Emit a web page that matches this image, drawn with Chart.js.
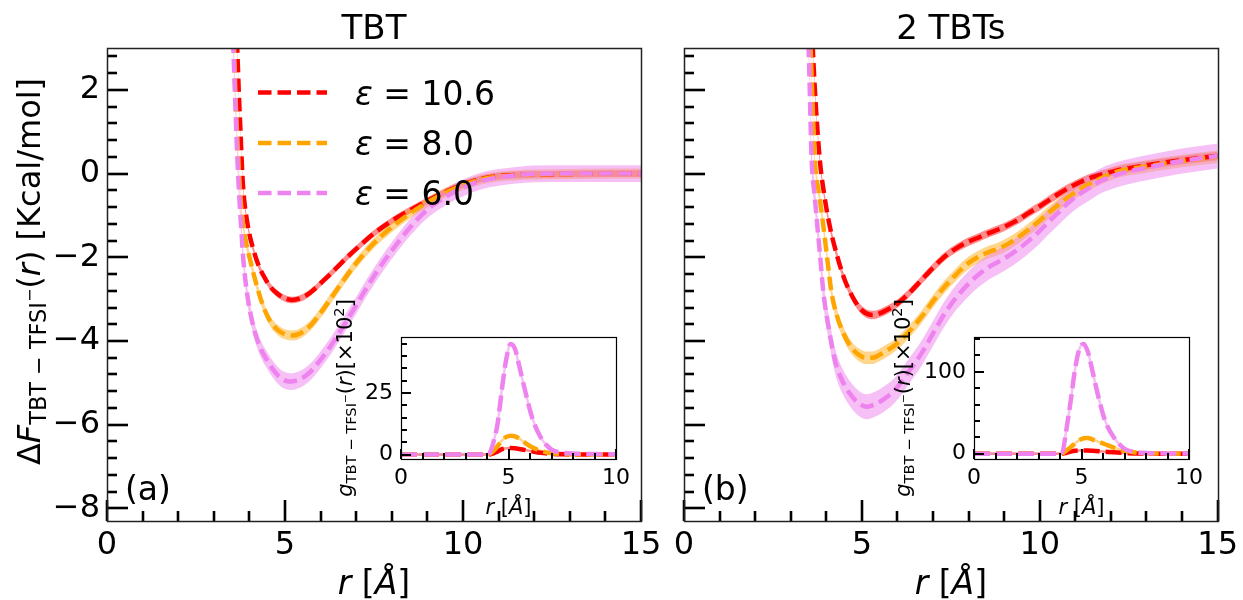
<!DOCTYPE html>
<html>
<head>
<meta charset="utf-8">
<title>TBT - TFSI free energy profiles</title>
<script src="https://cdn.jsdelivr.net/npm/chart.js@4.4.1/dist/chart.umd.min.js"></script>
<style>
  html, body { margin: 0; padding: 0; background: #fff; }
  #fig { position: relative; width: 1243px; height: 600px; overflow: hidden; background: #fff; }
  #fig canvas { position: absolute; }
</style>
</head>
<body>
<div id="fig">
  <canvas id="panelA" width="680" height="600" style="left:0px;top:0px"></canvas>
  <canvas id="panelB" width="623" height="600" style="left:620px;top:0px"></canvas>
  <canvas id="insetA" width="340" height="240" style="left:300px;top:290px"></canvas>
  <canvas id="insetB" width="350" height="240" style="left:870px;top:290px"></canvas>
</div>
<script>
// ---- panel (a): one TBT, free energy in kcal/mol ----
const rTbtRed = [3.55, 3.62, 3.7, 3.75, 3.8, 3.85, 3.9, 4.0, 4.1, 4.2, 4.3, 4.45, 4.6, 4.8, 5.0, 5.2, 5.4, 5.6, 5.8, 6.0, 6.3, 6.6, 7.0, 7.5, 8.0, 8.5, 9.0, 9.5, 10, 10.5, 11, 11.5, 12, 13, 14, 15];
const fTbtRed = [6.0, 4.0, 2.0, 1.0, 0.0, -0.6, -0.95, -1.45, -1.78, -2.06, -2.28, -2.52, -2.72, -2.88, -2.98, -3.02, -2.99, -2.91, -2.78, -2.62, -2.38, -2.12, -1.8, -1.43, -1.13, -0.88, -0.65, -0.44, -0.26, -0.13, -0.06, -0.03, -0.02, -0.01, 0, 0];
const rTbtOrange = [3.5, 3.57, 3.62, 3.68, 3.74, 3.82, 3.9, 4.02, 4.15, 4.3, 4.45, 4.6, 4.8, 5.0, 5.2, 5.4, 5.6, 5.8, 6.0, 6.3, 6.6, 7.0, 7.5, 8.0, 8.5, 9.0, 9.5, 10, 10.5, 11, 11.5, 12, 13, 14, 15];
const fTbtOrange = [6.0, 3.0, 1.6, 0.5, -0.46, -1.2, -1.62, -2.06, -2.5, -2.95, -3.3, -3.55, -3.74, -3.84, -3.87, -3.83, -3.72, -3.55, -3.33, -2.97, -2.6, -2.14, -1.66, -1.28, -0.96, -0.69, -0.46, -0.28, -0.14, -0.07, -0.04, -0.02, -0.01, 0, 0];
const rTbtViolet = [3.45, 3.55, 3.6, 3.65, 3.71, 3.77, 3.83, 3.95, 4.11, 4.3, 4.49, 4.7, 4.9, 5.15, 5.4, 5.6, 5.8, 6.0, 6.3, 6.6, 7.0, 7.3, 7.63, 8.0, 8.5, 9.0, 9.5, 10, 10.5, 11, 11.5, 12, 13, 14, 15];
const fTbtViolet = [6.0, 3.0, 1.8, 0.6, -0.46, -1.3, -2.06, -2.95, -3.65, -4.15, -4.45, -4.72, -4.9, -4.97, -4.92, -4.82, -4.66, -4.45, -4.1, -3.7, -3.15, -2.72, -2.28, -1.84, -1.3, -0.86, -0.56, -0.34, -0.18, -0.09, -0.04, -0.01, 0, 0, 0];

// ---- panel (b): two TBTs ----
const r2TbtRed = [3.55, 3.62, 3.7, 3.82, 3.95, 4.1, 4.3, 4.5, 4.71, 4.9, 5.1, 5.3, 5.5, 5.7, 5.93, 6.3, 6.68, 7.0, 7.33, 7.66, 7.99, 8.3, 8.55, 8.85, 9.11, 9.4, 9.67, 10.0, 10.23, 10.5, 10.8, 11.1, 11.36, 11.75, 12.15, 13, 14, 15];
const f2TbtRed = [4.5, 3.0, 1.7, 0.3, -0.55, -1.27, -1.95, -2.5, -2.9, -3.17, -3.33, -3.38, -3.34, -3.26, -3.15, -2.88, -2.54, -2.25, -1.98, -1.78, -1.63, -1.52, -1.43, -1.33, -1.23, -1.1, -0.95, -0.78, -0.65, -0.5, -0.35, -0.22, -0.12, -0.02, 0.07, 0.2, 0.32, 0.42];
const r2TbtOrange = [3.5, 3.58, 3.68, 3.8, 3.92, 4.05, 4.15, 4.3, 4.5, 4.7, 4.9, 5.1, 5.3, 5.5, 5.7, 5.93, 6.3, 6.68, 7.0, 7.33, 7.66, 7.99, 8.3, 8.55, 8.85, 9.11, 9.4, 9.67, 10.0, 10.23, 10.5, 10.8, 11.1, 11.36, 11.75, 12.15, 13, 14, 15];
const f2TbtOrange = [4.5, 2.5, 0.3, -0.5, -1.27, -2.2, -2.86, -3.4, -3.85, -4.15, -4.32, -4.4, -4.4, -4.33, -4.23, -4.1, -3.8, -3.42, -3.05, -2.7, -2.4, -2.14, -1.98, -1.88, -1.79, -1.68, -1.52, -1.35, -1.12, -0.95, -0.76, -0.56, -0.39, -0.26, -0.1, 0.04, 0.17, 0.3, 0.4];
const r2TbtViolet = [3.45, 3.52, 3.59, 3.67, 3.75, 3.83, 3.92, 4.05, 4.24, 4.45, 4.7, 4.9, 5.13, 5.4, 5.65, 5.93, 6.3, 6.68, 7.0, 7.33, 7.66, 7.99, 8.3, 8.55, 8.85, 9.11, 9.4, 9.67, 10.0, 10.23, 10.5, 10.8, 11.1, 11.36, 11.75, 12.15, 13, 14, 15];
const f2TbtViolet = [4.5, 2.5, 0.3, -0.5, -1.27, -2.0, -2.86, -3.6, -4.45, -4.95, -5.3, -5.48, -5.57, -5.5, -5.37, -5.17, -4.75, -4.29, -3.82, -3.34, -2.95, -2.64, -2.4, -2.24, -2.1, -1.97, -1.8, -1.62, -1.37, -1.17, -0.95, -0.7, -0.5, -0.36, -0.16, -0.03, 0.14, 0.3, 0.42];

// half width of the shaded error band, red / orange / violet
const bandTbt = [0.08, 0.12, 0.2];
const band2Tbt = [0.10, 0.15, 0.3];

// ---- insets: g(r) x 10^2 ----
const rInset = [0, 1, 2, 3, 4, 4.1, 4.3, 4.5, 4.7, 4.9, 5.1, 5.3, 5.5, 5.8, 6.1, 6.5, 7.0, 7.5, 8, 9, 10];
const gTbtRed = [0, 0, 0, 0, 0, 0, 0.5, 1.3, 2.2, 2.6, 2.7, 2.6, 2.3, 1.8, 1.3, 0.7, 0.3, 0.1, 0.05, 0, 0];
const gTbtOrange = [0, 0, 0, 0, 0, 0.1, 1.5, 3.5, 5.8, 7.2, 7.7, 7.4, 6.5, 4.6, 3.0, 1.5, 0.5, 0.2, 0.1, 0, 0];
const gTbtViolet = [0, 0, 0, 0, 0, 0.3, 5, 13, 27, 39, 45, 43, 36, 25, 15, 7, 2, 0.8, 0.4, 0.2, 0.1];
const g2TbtRed = [0, 0, 0, 0, 0, 0, 1.2, 2.5, 3.5, 4, 4, 3.8, 3.5, 3.0, 2.4, 1.6, 0.8, 0.3, 0.1, 0, 0];
const g2TbtOrange = [0, 0, 0, 0, 0, 0.2, 4, 8, 12.5, 16.5, 18.8, 19, 17.5, 14.5, 11.5, 7.5, 3.8, 1.5, 0.5, 0.1, 0];
const g2TbtViolet = [0, 0, 0, 0, 0, 1, 30, 65, 103, 128, 134, 124, 102, 68, 40, 20, 6, 2, 0.8, 0.3, 0.1];

const epsLabels = ['10.6', '8.0', '6.0'];
const xTicksMain = [0, 5, 10, 15];
const yTicksMain = [-8, -6, -4, -2, 0, 2];
const xTicksInset = [0, 5, 10];
const yTicksInsetA = [0, 25];
const yTicksInsetB = [0, 100];

const colors = ['rgb(255,0,0)', 'rgb(255,165,0)', 'rgb(238,130,238)'];
const shades = ['rgba(255,0,0,0.45)', 'rgba(255,165,0,0.45)', 'rgba(238,130,238,0.5)'];
const FONT = "'DejaVu Sans', sans-serif";

Chart.defaults.font.family = FONT;
Chart.defaults.color = '#000';
Chart.defaults.elements.point.radius = 0;
Chart.defaults.elements.line.cubicInterpolationMode = 'monotone';

const fmt = v => String(v).replace('-', '\u2212');

const xTitleParts = [{ t: 'r', it: true }, { t: ' [' }, { t: '\u00c5', it: true }, { t: ']' }];
const yTitleMain = [
  { t: '\u0394' }, { t: 'F', it: true },
  { t: 'TBT \u2212 TFSI', s: 0.7, dy: 0.2 }, { t: '\u2212', s: 0.5, dy: -0.15 },
  { t: '(' }, { t: 'r', it: true }, { t: ')' }, { t: ' [Kcal/mol]' }
];
const yTitleInset = [
  { t: 'g', it: true }, { t: 'TBT \u2212 TFSI', s: 0.7, dy: 0.2 }, { t: '\u2212', s: 0.5, dy: -0.15 },
  { t: '(' }, { t: 'r', it: true }, { t: ')[\u00d710' }, { t: '2', s: 0.7, dy: -0.4 }, { t: ']' }
];

// text with mixed sizes / italics, optionally rotated
function drawRich(ctx, parts, size, x, y, rot, align) {
  const fontOf = p => (p.it ? 'italic ' : '') + (size * (p.s || 1)) + 'px ' + FONT;
  ctx.save();
  ctx.translate(x, y);
  if (rot) ctx.rotate(rot);
  ctx.textBaseline = 'alphabetic';
  ctx.textAlign = 'left';
  ctx.fillStyle = '#000';
  let w = 0;
  parts.forEach(p => { ctx.font = fontOf(p); w += ctx.measureText(p.t).width; });
  let cx = align === 'center' ? -w / 2 : 0;
  parts.forEach(p => {
    ctx.font = fontOf(p);
    ctx.fillText(p.t, cx, (p.dy || 0) * size);
    cx += ctx.measureText(p.t).width;
  });
  ctx.restore();
}

// inward major/minor ticks and the box around the axes
const axesIn = {
  id: 'axesIn',
  beforeDraw(chart, args, o) {
    if (!o.fillArea) return;
    const a = chart.chartArea;
    chart.ctx.save();
    chart.ctx.fillStyle = '#fff';
    chart.ctx.fillRect(a.left, a.top, a.width, a.height);
    chart.ctx.restore();
  },
  afterDraw(chart, args, o) {
    if (!o.x) return;
    const ctx = chart.ctx, a = chart.chartArea;
    ctx.save();
    ctx.strokeStyle = '#000';
    ctx.lineWidth = o.tickWidth;
    ['x', 'y'].forEach(ax => {
      const t = o[ax], s = chart.scales[ax];
      const n0 = Math.ceil(s.min / t.minor - 1e-9), n1 = Math.floor(s.max / t.minor + 1e-9);
      for (let n = n0; n <= n1; n++) {
        const v = n * t.minor;
        const major = Math.abs(v / t.major - Math.round(v / t.major)) < 1e-6;
        const len = major ? t.majorLen : t.minorLen;
        const p = Math.round(s.getPixelForValue(v));
        ctx.beginPath();
        if (ax === 'x') { ctx.moveTo(p, a.bottom); ctx.lineTo(p, a.bottom - len); }
        else { ctx.moveTo(a.left, p); ctx.lineTo(a.left + len, p); }
        ctx.stroke();
      }
    });
    ctx.lineWidth = o.frameWidth;
    ctx.strokeStyle = o.frameColor;
    ctx.strokeRect(Math.round(a.left) + 0.5, Math.round(a.top) + 0.5, Math.round(a.width), Math.round(a.height));
    ctx.restore();
  }
};

// titles, axis titles, panel tag and legend
const annot = {
  id: 'annot',
  afterDraw(chart, args, o) {
    const ctx = chart.ctx, a = chart.chartArea;
    const mid = (a.left + a.right) / 2;
    if (o.title) drawRich(ctx, [{ t: o.title }], 34, mid, a.top - 9, 0, 'center');
    if (o.xTitleSize) drawRich(ctx, xTitleParts, o.xTitleSize, mid, a.bottom + o.xTitleGap, 0, 'center');
    if (o.yTitle) drawRich(ctx, o.yTitle, o.yTitleSize, a.left + o.yTitleX, (a.top + a.bottom) / 2 + (o.yTitleDy || 0), -Math.PI / 2, 'center');
    if (o.tag) drawRich(ctx, [{ t: o.tag }], 33, a.left + 18, a.bottom - 21, 0, 'left');
    if (o.legend) {
      const rows = [44.5, 95, 145];
      epsLabels.forEach((lab, k) => {
        const y = a.top + rows[k];
        ctx.save();
        ctx.strokeStyle = colors[k];
        ctx.lineWidth = 4.5;
        ctx.setLineDash([13.5, 6]);
        ctx.beginPath();
        ctx.moveTo(a.left + 151, y);
        ctx.lineTo(a.left + 220, y);
        ctx.stroke();
        ctx.restore();
        drawRich(ctx, [{ t: '\u03b5', it: true }, { t: ' = ' + lab }], 33, a.left + 248, y + 12, 0, 'left');
      });
    }
  }
};

Chart.register(axesIn, annot);

function pts(r, f, d) {
  return r.map((x, i) => ({ x: x, y: f[i] + (d || 0) }));
}

function mainSets(curves, band) {
  const sets = [];
  curves.forEach(([r, f], k) => {
    sets.push({ data: pts(r, f, band[k]), fill: '+1', backgroundColor: shades[k], borderWidth: 0, order: 12 - k, clip: 0 });
    sets.push({ data: pts(r, f, -band[k]), fill: false, borderWidth: 0, order: 12 - k, clip: 0 });
  });
  curves.forEach(([r, f], k) => {
    sets.push({ data: pts(r, f), borderColor: colors[k], borderWidth: 4.5, borderDash: [13.5, 6], fill: false, order: 2 - k, clip: 0 });
  });
  return sets;
}

function insetSets(gs) {
  const sets = [];
  gs.forEach((g, k) => {
    sets.push({ data: pts(rInset, g), borderColor: shades[k], borderWidth: 2.5, fill: false, order: 12 - k, clip: 0 });
  });
  gs.forEach((g, k) => {
    sets.push({ data: pts(rInset, g), borderColor: colors[k], borderWidth: 4.5, borderDash: [16, 6], fill: false, order: 2 - k, clip: 0 });
  });
  return sets;
}

function baseOptions(cfg) {
  return {
    responsive: false,
    animation: false,
    devicePixelRatio: 1,
    events: [],
    layout: { padding: { left: 0, top: cfg.padTop, right: cfg.padRight, bottom: 0 } },
    scales: {
      x: {
        type: 'linear', min: cfg.xMin, max: cfg.xMax,
        afterBuildTicks: s => { s.ticks = cfg.xTicks.map(v => ({ value: v })); },
        afterFit: s => { s.height = cfg.xHeight; },
        grid: { display: false, drawTicks: false }, border: { display: false },
        ticks: { font: { size: cfg.tickSize }, padding: cfg.xPad, maxRotation: 0, autoSkip: false, callback: fmt }
      },
      y: {
        type: 'linear', min: cfg.yMin, max: cfg.yMax,
        afterBuildTicks: s => { s.ticks = cfg.yTicks.map(v => ({ value: v })); },
        afterFit: s => { s.width = cfg.yWidth; },
        grid: { display: false, drawTicks: false }, border: { display: false },
        ticks: { display: cfg.yLabels, font: { size: cfg.tickSize }, padding: cfg.yPad, autoSkip: false, callback: fmt }
      }
    },
    plugins: {
      legend: { display: false },
      tooltip: { enabled: false },
      axesIn: cfg.axesIn,
      annot: cfg.annot
    }
  };
}

const mainTicks = {
  x: { major: 5, minor: 1, majorLen: 21, minorLen: 10 },
  y: { major: 2, minor: 0.4, majorLen: 21, minorLen: 10 },
  tickWidth: 2.6, frameWidth: 1.5, frameColor: '#222'
};
const insetTicksA = {
  x: { major: 5, minor: 1, majorLen: 10, minorLen: 6 },
  y: { major: 25, minor: 5, majorLen: 10, minorLen: 6 },
  tickWidth: 2, frameWidth: 1.2, frameColor: '#000', fillArea: true
};
const insetTicksB = {
  x: { major: 5, minor: 1, majorLen: 10, minorLen: 6 },
  y: { major: 100, minor: 20, majorLen: 10, minorLen: 6 },
  tickWidth: 2, frameWidth: 1.2, frameColor: '#000', fillArea: true
};

new Chart(document.getElementById('panelA'), {
  type: 'line',
  data: { datasets: mainSets([[rTbtRed, fTbtRed], [rTbtOrange, fTbtOrange], [rTbtViolet, fTbtViolet]], bandTbt) },
  options: baseOptions({
    padTop: 48, padRight: 39, xMin: 0, xMax: 15, yMin: -8.3, yMax: 3,
    xTicks: xTicksMain, yTicks: yTicksMain, xHeight: 79, yWidth: 107,
    tickSize: 32, xPad: 5, yPad: 7, yLabels: true,
    axesIn: mainTicks,
    annot: { title: 'TBT', xTitleSize: 33, xTitleGap: 73, yTitle: yTitleMain, yTitleSize: 32, yTitleX: -67, yTitleDy: -13, tag: '(a)', legend: true }
  })
});

new Chart(document.getElementById('panelB'), {
  type: 'line',
  data: { datasets: mainSets([[r2TbtRed, f2TbtRed], [r2TbtOrange, f2TbtOrange], [r2TbtViolet, f2TbtViolet]], band2Tbt) },
  options: baseOptions({
    padTop: 48, padRight: 25, xMin: 0, xMax: 15, yMin: -8.3, yMax: 3,
    xTicks: xTicksMain, yTicks: yTicksMain, xHeight: 79, yWidth: 64,
    tickSize: 32, xPad: 5, yPad: 7, yLabels: false,
    axesIn: mainTicks,
    annot: { title: '2 TBTs', xTitleSize: 33, xTitleGap: 73, tag: '(b)' }
  })
});

new Chart(document.getElementById('insetA'), {
  type: 'line',
  data: { datasets: insetSets([gTbtRed, gTbtOrange, gTbtViolet]) },
  options: baseOptions({
    padTop: 47, padRight: 24, xMin: 0, xMax: 10, yMin: -1.8, yMax: 47.8,
    xTicks: xTicksInset, yTicks: yTicksInsetA, xHeight: 71, yWidth: 101,
    tickSize: 22, xPad: 6, yPad: 8, yLabels: true,
    axesIn: insetTicksA,
    annot: { xTitleSize: 21, xTitleGap: 55, yTitle: yTitleInset, yTitleSize: 21, yTitleX: -49 }
  })
});

new Chart(document.getElementById('insetB'), {
  type: 'line',
  data: { datasets: insetSets([g2TbtRed, g2TbtOrange, g2TbtViolet]) },
  options: baseOptions({
    padTop: 47, padRight: 31, xMin: 0, xMax: 10, yMin: -6.5, yMax: 142.5,
    xTicks: xTicksInset, yTicks: yTicksInsetB, xHeight: 71, yWidth: 104,
    tickSize: 22, xPad: 6, yPad: 8, yLabels: true,
    axesIn: insetTicksB,
    annot: { xTitleSize: 21, xTitleGap: 55, yTitle: yTitleInset, yTitleSize: 21, yTitleX: -64 }
  })
});
</script>
</body>
</html>
